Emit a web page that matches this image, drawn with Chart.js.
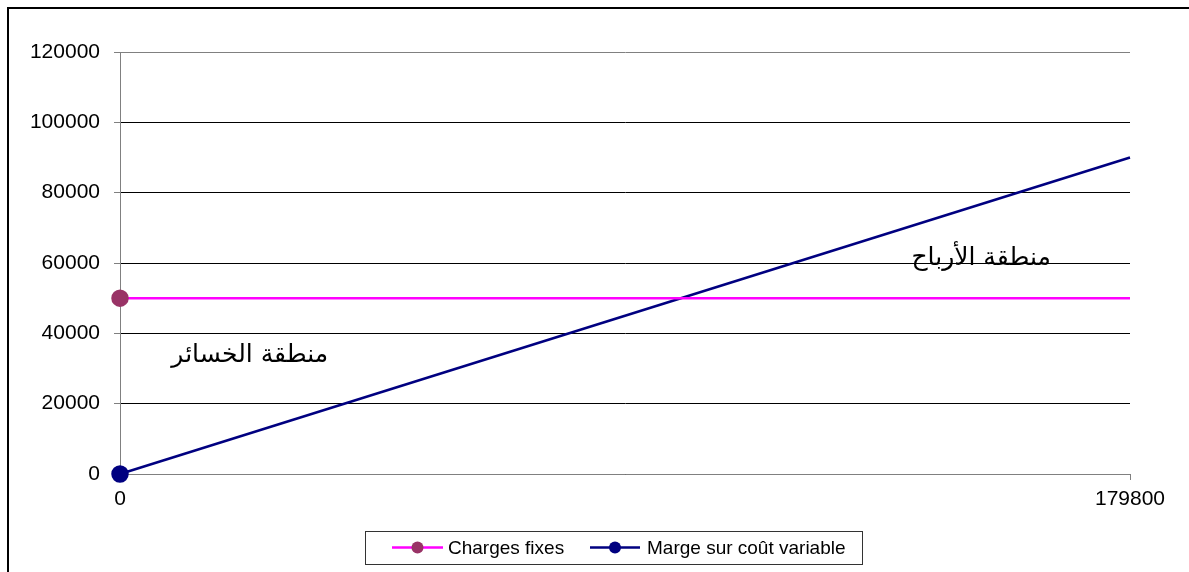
<!DOCTYPE html>
<html><head><meta charset="utf-8">
<script src="https://cdn.jsdelivr.net/npm/chart.js@4.4.0/dist/chart.umd.min.js"></script>
<style>html,body{margin:0;padding:0;background:#fff}#wrap{width:1189px;height:572px;position:relative}</style>
</head><body><div id="wrap"><canvas id="c" width="1189" height="572"></canvas></div>
<script>
const xValues = [0, 179800];
const xTickLabels = [0, 179800];
const chargesFixes = [50000, 50000];
const margeSurCoutVariable = [0, 90000];
const seriesNames = ['Charges fixes', 'Marge sur coût variable'];
const annotations = [
  {text: 'منطقة الأرباح', x: 153300, y: 61400},
  {text: 'منطقة الخسائر', x: 23100, y: 33800}
];

const FONT = 'Liberation Sans, Arial, sans-serif';

const framePlugin = {
  id: 'frame',
  afterDraw(chart) {
    const ctx = chart.ctx;
    ctx.save();
    ctx.strokeStyle = '#000';
    ctx.lineWidth = 2;
    ctx.beginPath();
    ctx.moveTo(8, 600); ctx.lineTo(8, 8); ctx.lineTo(1200, 8);
    ctx.stroke();
    const xs = chart.scales.x, ys = chart.scales.y;
    ctx.fillStyle = '#000';
    ctx.font = '25px "DejaVu Sans", sans-serif';
    ctx.textAlign = 'center';
    ctx.textBaseline = 'middle';
    annotations.forEach(a => {
      ctx.fillText(a.text, xs.getPixelForValue(a.x), ys.getPixelForValue(a.y));
    });
    const bx = 365.5, by = 531.5, bw = 497, bh = 33;
    ctx.strokeStyle = '#333';
    ctx.lineWidth = 1;
    ctx.strokeRect(bx, by, bw, bh);
    const cy = 547.5;
    const items = [
      {line: '#FF00FF', pt: '#993366', x0: 392, x1: 443, tx: 448, name: seriesNames[0]},
      {line: '#000080', pt: '#000080', x0: 590, x1: 640, tx: 647, name: seriesNames[1]}
    ];
    ctx.font = '19px ' + FONT;
    ctx.textAlign = 'left';
    items.forEach(it => {
      ctx.strokeStyle = it.line; ctx.lineWidth = 2.5;
      ctx.beginPath(); ctx.moveTo(it.x0, cy); ctx.lineTo(it.x1, cy); ctx.stroke();
      ctx.fillStyle = it.pt;
      ctx.beginPath(); ctx.arc((it.x0 + it.x1) / 2, cy, 6, 0, Math.PI * 2); ctx.fill();
      ctx.fillStyle = '#000';
      ctx.fillText(it.name, it.tx, cy + 1);
    });
    ctx.restore();
  }
};

new Chart(document.getElementById('c'), {
  type: 'line',
  data: {
    datasets: [
      {
        label: seriesNames[0],
        data: xValues.map((x, i) => ({x, y: chargesFixes[i]})),
        borderColor: '#FF00FF', backgroundColor: '#993366',
        pointBackgroundColor: '#993366', pointBorderColor: '#993366',
        borderWidth: 2.5, pointRadius: [7.5, 0], pointHoverRadius: 0, tension: 0, clip: false
      },
      {
        label: seriesNames[1],
        data: xValues.map((x, i) => ({x, y: margeSurCoutVariable[i]})),
        borderColor: '#000080', backgroundColor: '#000080',
        pointBackgroundColor: '#000080', pointBorderColor: '#000080',
        borderWidth: 2.5, pointRadius: [7.5, 0], pointHoverRadius: 0, tension: 0, clip: false
      }
    ]
  },
  options: {
    responsive: false, animation: false, devicePixelRatio: 1,
    layout: {padding: {left: 0, right: 59, top: 52, bottom: 56}},
    plugins: {legend: {display: false}, tooltip: {enabled: false}},
    scales: {
      x: {
        type: 'linear', min: 0, max: 179800,
        afterBuildTicks: s => { s.ticks = xTickLabels.map(v => ({value: v})); },
        afterFit: s => { s.height = 42; },
        grid: {drawOnChartArea: false, drawTicks: true, tickLength: 6, color: '#808080', lineWidth: 1},
        border: {color: '#808080', width: 1},
        ticks: {color: '#000', font: {family: FONT, size: 21}, padding: 7, maxRotation: 0, autoSkip: false,
          callback: v => String(v)}
      },
      y: {
        min: 0, max: 120000,
        afterFit: s => { s.width = 120; },
        grid: {
          color: c => (c.tick && c.tick.value === 120000) ? '#808080' : '#000',
          tickColor: '#808080', tickLength: 6, lineWidth: 1
        },
        border: {color: '#808080', width: 1},
        ticks: {stepSize: 20000, color: '#000', font: {family: FONT, size: 21}, padding: 14,
          callback: v => String(v)}
      }
    }
  },
  plugins: [framePlugin]
});
</script></body></html>
